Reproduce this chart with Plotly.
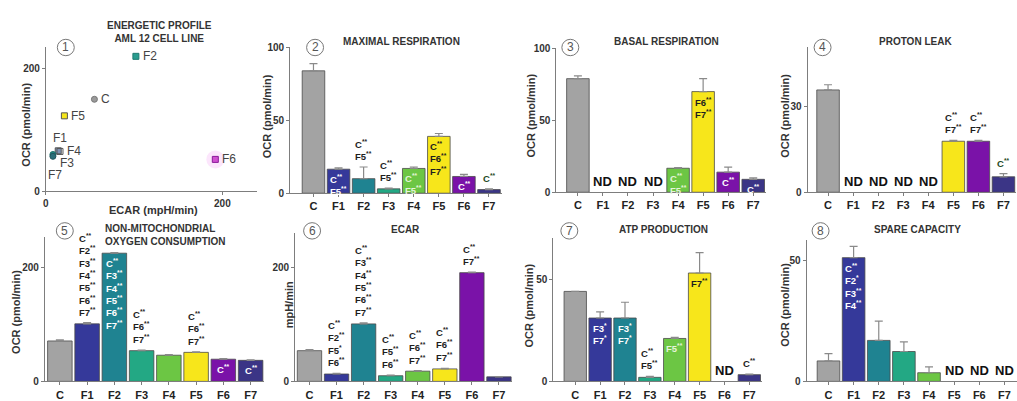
import plotly.graph_objects as go

W, H = 1017, 401
FONT = "Liberation Sans, Arial, sans-serif"

cats = ["C", "F1", "F2", "F3", "F4", "F5", "F6", "F7"]
bar_colors = ["#a3a3a3", "#35399a", "#1f8391", "#23a884", "#6cc644",
              "#f7e61b", "#7a12a8", "#3b3586"]

# Energetic profile (baseline ECAR vs OCR)
ecar_profile = [55, 14, 102, 8, 16, 21, 192, 8]
ocr_profile = [150, 66, 220, 60, 65, 123, 52, 57]

# Mito stress test parameters (None = not detected)
maximal = [84, 16.5, 10, 3, 17, 39, 11.5, 2.5]
maximal_err = [5, 1, 8, 0.5, 1, 2, 1.5, 0.5]
basal = [79, None, None, None, 16.7, 70, 14, 9]
basal_err = [2, 0, 0, 0, 0.5, 9, 3.5, 1]
proton = [35.7, None, None, None, None, 17.8, 17.8, 5.4]
proton_err = [1.8, 0, 0, 0, 0, 0.3, 0.3, 1.1]
nonmito = [71, 101, 225, 54, 46, 51, 39, 37]
nonmito_err = [2, 2, 1, 1, 1, 1, 1, 1]
ecar = [54, 13, 101, 10, 18, 22, 191, 8]
ecar_err = [2, 1, 2, 1, 1, 1, 1, 0.5]
atp = [44, 31, 31, 2, 21, 53, None, 3.3]
atp_err = [0, 3, 7.7, 0.5, 0.5, 10, 0, 0.3]
spare = [8.5, 51.3, 17, 12.4, 3.6, None, None, None]
spare_err = [3, 4.7, 8, 4, 2.4, 0, 0, 0]

# Significance labels: (category, lines, inside/outside bar, colour)
WHITE, BLACK, PALE = "#ffffff", "#1e1e1e", "#e4f4da"
sig = {
    2: [("F1", ["C**", "F5**"], "in", WHITE),
        ("F2", ["C**", "F5**"], "out", BLACK),
        ("F3", ["C**", "F5**"], "out", BLACK),
        ("F4", ["C**", "F5**"], "in", PALE),
        ("F5", ["C**", "F6**", "F7**"], "in", BLACK),
        ("F6", ["C**"], "in", WHITE),
        ("F7", ["C**"], "out", "#1f4a1f")],
    3: [("F4", ["C**", "F5**"], "in", PALE),
        ("F5", ["F6**", "F7**"], "in", BLACK),
        ("F6", ["C**"], "in", WHITE),
        ("F7", ["C**"], "in", WHITE)],
    4: [("F5", ["C**", "F7**"], "out", BLACK),
        ("F6", ["C**", "F7**"], "out", BLACK),
        ("F7", ["C**"], "out", "#1f4a1f")],
    5: [("F1", ["C**", "F2**", "F3**", "F4**", "F5**", "F6**", "F7**"], "out", BLACK),
        ("F2", ["C**", "F3**", "F4**", "F5**", "F6**", "F7**"], "in", WHITE),
        ("F3", ["C**", "F6**", "F7**"], "out", BLACK),
        ("F5", ["C**", "F6**", "F7**"], "out", BLACK),
        ("F6", ["C**"], "in", WHITE),
        ("F7", ["C**"], "in", WHITE)],
    6: [("F1", ["C**", "F2**", "F5*", "F6**"], "out", BLACK),
        ("F2", ["C**", "F3**", "F4**", "F5**", "F6**", "F7**"], "out", BLACK),
        ("F3", ["C**", "F5**", "F6**"], "out", BLACK),
        ("F4", ["C**", "F6**", "F7**"], "out", BLACK),
        ("F5", ["C**", "F6**", "F7**"], "out", BLACK),
        ("F6", ["C**", "F7**"], "out", BLACK)],
    7: [("F1", ["F3*", "F7*"], "in", WHITE),
        ("F2", ["F3*", "F7*"], "in", WHITE),
        ("F3", ["C**", "F5**"], "out", BLACK),
        ("F4", ["F5**"], "in", PALE),
        ("F5", ["F7**"], "in", BLACK),
        ("F7", ["C**"], "out", BLACK)],
    8: [("F1", ["C**", "F2*", "F3**", "F4**"], "in", WHITE)],
}

panel_data = {
    2: (maximal, maximal_err),
    3: (basal, basal_err),
    4: (proton, proton_err),
    5: (nonmito, nonmito_err),
    6: (ecar, ecar_err),
    7: (atp, atp_err),
    8: (spare, spare_err),
}

titles = {
    1: (["ENERGETIC PROFILE", "AML 12 CELL LINE"], 157, 27, "center"),
    2: (["MAXIMAL RESPIRATION"], 400, 37, "center"),
    3: (["BASAL RESPIRATION"], 665, 37, "center"),
    4: (["PROTON LEAK"], 915, 37, "center"),
    5: (["NON-MITOCHONDRIAL", "OXYGEN CONSUMPTION"], 100, 237, "left"),
    6: (["ECAR"], 404, 232, "center"),
    7: (["ATP PRODUCTION"], 662, 232, "center"),
    8: (["SPARE CAPACITY"], 917, 232, "center"),
}

ytitles = {
    1: ("OCR (pmol/min)", 23, 123),
    2: ("OCR (pmol/min)", 265, 114),
    3: ("OCR (pmol/min)", 530, 113),
    4: ("OCR (pmol/min)", 784, 114),
    5: ("OCR (pmol/min)", 13, 317),
    6: ("mpH/min", 287, 310),
    7: ("OCR (pmol/min)", 528, 310),
    8: ("OCR (pmol/min)", 784, 310),
}

# panel geometry in pixels: x0, x1, ytop, ybottom, x range, y range, y ticks
geom = {
    1: (43, 255, 42, 192, [0, 239.5], [0, 236], [0, 200]),
    2: (288, 500, 43, 194, [-0.93, 7.5], [0, 100], [0, 50, 100]),
    3: (555, 765, 44, 193, [-0.86, 7.5], [0, 100], [0, 50, 100]),
    4: (807, 1016, 43, 193, [-0.815, 7.5], [0, 50.5], [0, 30]),
    5: (42, 262, 239, 389, [-0.55, 7.5], [0, 254], [0, 200]),
    6: (293, 511, 235, 389, [-0.53, 7.5], [0, 261], [0, 200]),
    7: (552, 761, 240, 389, [-0.88, 7.5], [0, 70.3], [0, 50]),
    8: (806, 1017, 242, 389, [-0.87, 7.5], [0, 58.8], [0, 50]),
}

circles = {1: (63, 43), 2: (313, 43), 3: (569, 43), 4: (822, 43),
           5: (62, 233), 6: (310, 233), 7: (568, 233), 8: (820, 233)}

# label placement around each scatter point: (xanchor, xshift, yshift)
scatter_label_pos = {
    "C": ("left", 5, 0), "F1": ("center", 2, 13), "F2": ("left", 5, 0),
    "F3": ("left", 5, -9), "F4": ("left", 5, 0), "F5": ("left", 5, 0),
    "F6": ("left", 5, 0), "F7": ("center", 2, -19),
}


def fx(p):
    return p / W


def fy(p):
    return 1 - p / H


def fmt(label):
    if "*" in label:
        i = label.index("*")
        return label[:i] + "<sup>" + label[i:] + "</sup>"
    return label


fig = go.Figure()
layout = dict(
    width=W, height=H, margin=dict(l=0, r=0, t=0, b=0),
    paper_bgcolor="white", plot_bgcolor="white", showlegend=False,
    font=dict(family=FONT, color="#222"), bargap=0.1,
)
annotations = []
shapes = []

axis_common = dict(showline=True, linecolor="#7d7d7d", linewidth=1,
                   ticks="outside", ticklen=3, tickcolor="#7d7d7d",
                   showgrid=False, zeroline=False, fixedrange=True)

for i, (x0, x1, yt, yb, xr, yr, yticks) in geom.items():
    sx = "" if i == 1 else str(i)
    xa = dict(axis_common, domain=[fx(x0), fx(x1)], range=xr,
              anchor="y" + sx)
    ya = dict(axis_common, domain=[fy(yb), fy(yt)], range=yr,
              anchor="x" + sx, tickvals=yticks,
              ticktext=[f"<b>{v}</b>" for v in yticks],
              tickfont=dict(size=10, color="#333"))
    if i == 1:
        xa.update(tickvals=[0, 200], ticktext=["<b>0</b>", "<b>200</b>"],
                  tickfont=dict(size=10, color="#333"))
    else:
        xa.update(type="category", tickvals=cats,
                  ticktext=[f"<b>{c}</b>" for c in cats],
                  tickfont=dict(size=11, color="#222"))
    layout["xaxis" + sx] = xa
    layout["yaxis" + sx] = ya

# Energetic profile scatter
marker_sym = ["circle", "square", "square", "circle", "square-open",
              "square", "square", "circle"]
marker_col = ["#9a9a9a", "#7f93b5", "#2a9d8f", "#1f8a86", "#555555",
              "#f5e61b", "#d050d0", "#2b6f7a"]
marker_line = ["#777", "#555", "#1f7a70", "#1f6f6a", "#555",
               "#555", "#8a1a9a", "#22555f"]
fig.add_trace(go.Scatter(
    x=[ecar_profile[6]], y=[ocr_profile[6]], mode="markers",
    marker=dict(size=18, color="rgba(240,140,240,0.22)"),
    hoverinfo="skip", xaxis="x", yaxis="y"))
fig.add_trace(go.Scatter(
    x=ecar_profile, y=ocr_profile, mode="markers",
    marker=dict(symbol=marker_sym, size=6, color=marker_col,
                line=dict(color=marker_line, width=1)),
    xaxis="x", yaxis="y", cliponaxis=False))
for c, ex, oc in zip(cats, ecar_profile, ocr_profile):
    xan, xs, ys = scatter_label_pos[c]
    annotations.append(dict(
        x=ex, y=oc, xref="x", yref="y", text=c, showarrow=False,
        xanchor=xan, yanchor="middle", xshift=xs, yshift=ys,
        font=dict(size=12, color="#444", family=FONT)))

# Bar panels
for i, (vals, errs) in panel_data.items():
    sx = str(i)
    fig.add_trace(go.Bar(
        x=cats, y=vals, xaxis="x" + sx, yaxis="y" + sx,
        marker=dict(color=bar_colors, line=dict(color="#4a4a4a", width=0.8)),
        error_y=dict(type="data", symmetric=False, array=errs,
                     arrayminus=[0] * len(errs), color="#8a8a8a",
                     thickness=1.2, width=4),
    ))
    for c, v in zip(cats, vals):
        if v is None:
            annotations.append(dict(
                x=c, y=0, xref="x" + sx, yref="y" + sx, text="<b>ND</b>",
                showarrow=False, xanchor="center", yanchor="bottom", yshift=1,
                font=dict(size=13, color="#111", family=FONT)))
    for c, lines, where, col in sig.get(i, []):
        k = cats.index(c)
        v = vals[k]
        txt = "<br>".join(f"<b>{fmt(s)}</b>" for s in lines)
        if where == "out":
            annotations.append(dict(
                x=c, y=v + errs[k], xref="x" + sx, yref="y" + sx, text=txt,
                showarrow=False, xanchor="center", yanchor="bottom", yshift=3,
                align="left", font=dict(size=9.5, color=col, family=FONT)))
        else:
            annotations.append(dict(
                x=c, y=v, xref="x" + sx, yref="y" + sx, text=txt,
                showarrow=False, xanchor="center", yanchor="top", yshift=-2,
                align="left", font=dict(size=9.5, color=col, family=FONT)))

# Panel titles
for i, (lines, cx, cy, al) in titles.items():
    annotations.append(dict(
        x=fx(cx), y=fy(cy), xref="paper", yref="paper",
        text="<br>".join(f"<b>{s}</b>" for s in lines), showarrow=False,
        xanchor="left" if al == "left" else "center", yanchor="middle",
        align=al, font=dict(size=10, color="#333", family=FONT)))

# Axis titles
for i, (t, cx, cy) in ytitles.items():
    annotations.append(dict(
        x=fx(cx), y=fy(cy), xref="paper", yref="paper", text=f"<b>{t}</b>",
        textangle=-90, showarrow=False, xanchor="center", yanchor="middle",
        font=dict(size=11, color="#333", family=FONT)))
annotations.append(dict(
    x=fx(151), y=fy(211), xref="paper", yref="paper",
    text="<b>ECAR (mpH/min)</b>", showarrow=False,
    xanchor="center", yanchor="middle",
    font=dict(size=11, color="#333", family=FONT)))

# Circled panel numbers
for n, (cx, cy) in circles.items():
    r = 8.5
    shapes.append(dict(type="circle", xref="paper", yref="paper",
                       x0=fx(cx - r), x1=fx(cx + r),
                       y0=fy(cy + r), y1=fy(cy - r),
                       line=dict(color="#777", width=1)))
    annotations.append(dict(
        x=fx(cx), y=fy(cy), xref="paper", yref="paper", text=str(n),
        showarrow=False, xanchor="center", yanchor="middle",
        font=dict(size=12, color="#555", family=FONT)))

layout["annotations"] = annotations
layout["shapes"] = shapes
fig.update_layout(**layout)
fig.write_html("out.html")
